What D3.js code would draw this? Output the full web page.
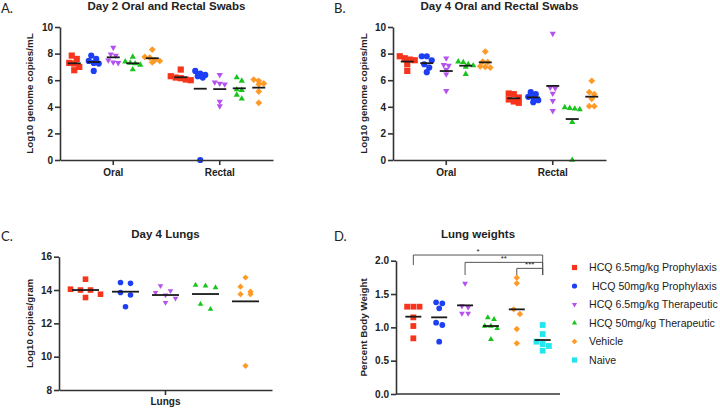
<!DOCTYPE html>
<html>
<head>
<meta charset="utf-8">
<script src="https://cdn.jsdelivr.net/npm/d3@7"></script>
<style>
  html, body { margin: 0; padding: 0; background: #fff; }
  svg { display: block; }
  text { font-family: "Liberation Sans", Arial, sans-serif; fill: #222; }
</style>
</head>
<body>
<svg id="chart" width="720" height="408"></svg>
<script>
// ---------------- DATA ----------------
const groups = ["HCQ 6.5mg/kg Prophylaxis", " HCQ 50mg/kg Prophylaxis", "HCQ 6.5mg/kg Therapeutic", "HCQ 50mg/kg Therapeutic", "Vehicle", "Naive"];
const swabCategories = ["Oral", "Rectal"];
const lungCategories = ["Lungs"];

// Panel A: Day 2 swabs (Log10 genome copies/mL)
const day2Oral = [
  [7.85, 7.6, 7.3, 7.25, 7.0, 6.75],
  [7.85, 7.6, 7.45, 7.3, 7.25, 6.7],
  [8.45, 7.95, 7.85, 7.5, 7.35, 7.3],
  [7.75, 7.4, 7.3, 7.25, 7.15, 6.8],
  [8.3, 7.75, 7.7, 7.5, 7.45, 7.35]
];
const day2Rectal = [
  [6.8, 6.3, 6.2, 6.15, 6.05, 6.0],
  [6.7, 6.5, 6.4, 6.3, 6.2, 0],
  [6.4, 5.85, 5.75, 5.7, 4.4, 4.05],
  [6.2, 5.95, 5.3, 5.25, 4.9, 4.6],
  [6.05, 5.95, 5.75, 5.7, 5.15, 4.3]
];
const day2OralMean = [7.27, 7.37, 7.72, 7.27, 7.65];
const day2RectalMean = [6.22, 5.36, 5.33, 5.39, 5.44];

// Panel B: Day 4 swabs
const day4Oral = [
  [7.8, 7.65, 7.55, 7.5, 7.2, 6.7],
  [7.8, 7.8, 7.5, 7.2, 6.95, 6.6],
  [7.65, 7.15, 7.1, 6.8, 6.45, 5.2],
  [7.4, 7.35, 7.2, 7.1, 7.0, 6.45],
  [8.15, 7.4, 7.35, 7.05, 7.0, 6.95]
];
const day4Rectal = [
  [5.0, 4.95, 4.7, 4.55, 4.4, 4.3],
  [5.1, 4.95, 4.75, 4.7, 4.5, 4.35],
  [9.5, 5.45, 5.4, 5.0, 4.45, 3.7],
  [3.95, 3.9, 3.85, 3.8, 2.85, 0],
  [5.95, 5.1, 4.95, 4.6, 4.05, 4.05]
];
const day4OralMean = [7.4, 7.28, 6.69, 7.09, 7.34];
const day4RectalMean = [4.64, 4.71, 5.57, 3.08, 4.76];

// Panel C: Day 4 lungs (Log10 copies/gram)
const day4Lungs = [
  [14.65, 14.05, 14.0, 14.0, 13.75, 13.55],
  [14.45, 14.4, 13.85, 13.7, 13.0],
  [14.25, 13.95, 13.85, 13.7, 13.5, 13.25],
  [14.3, 14.25, 14.15, 13.15, 12.85],
  [14.75, 14.2, 13.9, 13.75, 13.75, 9.45]
];
const day4LungsMean = [14.0, 13.9, 13.7, 13.76, 13.32];

// Panel D: Lung weights (Percent Body Weight)
const lungWeights = [
  [1.31, 1.31, 1.31, 1.15, 1.02, 0.835],
  [1.375, 1.36, 1.285, 1.07, 1.035, 0.785],
  [1.66, 1.32, 1.3, 1.21, 1.21],
  [1.145, 1.12, 1.02, 1.02, 0.985, 0.82],
  [1.745, 1.66, 1.27, 1.2, 0.975, 0.76],
  [1.035, 0.9, 0.785, 0.75, 0.72, 0.65]
];
const lungWeightsMean = [1.16, 1.15, 1.33, 1.02, 1.27, 0.81];

// Significance comparisons in panel D (group indices, label, bracket heights in data units)
const comparisons = [
  { from: 0, to: 5, label: "*", top: 2.085, leftEnd: 1.935, rightEnd: 1.785 },
  { from: 2, to: 5, label: "**", top: 1.975, leftEnd: 1.785, rightEnd: 1.785 },
  { from: 4, to: 5, label: "***", top: 1.885, leftEnd: 1.785, rightEnd: 1.785 }
];

const swabTicks = [0, 2, 4, 6, 8, 10];
const lungTicks = [8, 10, 12, 14, 16];
const weightTicks = [0, 0.5, 1.0, 1.5, 2.0];

// ---------------- STYLE ----------------
const colors = ["#f7351c", "#1c3ff5", "#b552ee", "#18c41c", "#ff9a26", "#22e6ee"];
const axisColor = "#333";

const svg = d3.select("#chart");

function shapePath(kind, w) {
  const r = w / 2;
  switch (kind) {
    case 0: case 5: return `M${-r},${-r}H${r}V${r}H${-r}Z`;
    case 1: return d3.symbol(d3.symbolCircle, Math.PI * r * r)();
    case 2: { const h = w * 0.87; return `M${-r},${-h/3}L${r},${-h/3}L0,${2*h/3}Z`; }
    case 3: { const h = w * 0.87; return `M${-r},${h/3}L${r},${h/3}L0,${-2*h/3}Z`; }
    case 4: { const q = r * 1.1; return `M0,${-q}L${q},0L0,${q}L${-q},0Z`; }
  }
}

// GraphPad-like spreading: points at similar heights form a row, spread symmetrically
function spread(values, yScale, step, thresh) {
  const order = d3.range(values.length).sort((a, b) => d3.descending(values[a], values[b]));
  const offsets = new Array(values.length).fill(0);
  let row = [];
  const flush = () => {
    row.forEach((idx, k) => { offsets[idx] = (k - (row.length - 1) / 2) * step; });
    row = [];
  };
  for (const i of order) {
    if (row.length && Math.abs(yScale(values[i]) - yScale(values[row[0]])) > thresh) flush();
    row.push(i);
  }
  flush();
  return offsets;
}

function drawYAxis(g, y, ticks, fmt) {
  const ax = g.append("g")
    .attr("transform", `translate(${y.xPos},0)`)
    .call(d3.axisLeft(y).tickValues(ticks).tickSize(5).tickSizeOuter(0).tickPadding(2).tickFormat(fmt));
  ax.select(".domain").attr("stroke", axisColor).attr("stroke-width", 1.6);
  ax.selectAll(".tick line").attr("stroke", axisColor).attr("stroke-width", 1.6);
  ax.selectAll(".tick text").attr("font-size", 10).attr("font-weight", "bold")
    .attr("font-family", "Liberation Sans, Arial, sans-serif").attr("fill", "#222");
  return ax;
}

function styleXAxis(ax) {
  ax.select(".domain").attr("stroke", axisColor).attr("stroke-width", 1.6);
  ax.selectAll(".tick line").attr("stroke", axisColor).attr("stroke-width", 1.6);
  ax.selectAll(".tick text").attr("font-size", 10).attr("font-weight", "bold")
    .attr("font-family", "Liberation Sans, Arial, sans-serif").attr("fill", "#222");
}

function panelText(g, cfg) {
  g.append("text").attr("x", cfg.letterX).attr("y", cfg.letterY)
    .attr("font-size", 13)
    .style("font-family", "Lato, 'Liberation Sans', sans-serif")
    .text(cfg.letter);
  g.append("text").attr("x", (cfg.x0 + cfg.x1) / 2).attr("y", cfg.titleY)
    .attr("text-anchor", "middle").attr("font-size", 11.5).attr("font-weight", "bold")
    .text(cfg.title);
  g.append("text")
    .attr("transform", `translate(${cfg.ylabX},${(cfg.y0 + cfg.y1) / 2}) rotate(-90)`)
    .attr("text-anchor", "middle").attr("font-size", 9.8).attr("font-weight", "bold")
    .text(cfg.ylab);
}

function drawGroups(g, seriesByCat, meansByCat, xCenter, innerX, y, opts) {
  seriesByCat.forEach((series, ci) => {
    series.forEach((vals, gi) => {
      const cx = xCenter(ci) + innerX(gi);
      const offs = spread(vals, y, opts.step, opts.thresh);
      g.append("g").selectAll("path").data(vals).join("path")
        .attr("d", shapePath(gi, opts.size))
        .attr("transform", (v, i) => `translate(${cx + offs[i]},${y(v)})`)
        .attr("fill", colors[gi]);
      const m = meansByCat[ci][gi];
      g.append("line")
        .attr("x1", cx - opts.half).attr("x2", cx + opts.half)
        .attr("y1", y(m)).attr("y2", y(m))
        .attr("stroke", "#1a1a1a").attr("stroke-width", 1.8);
    });
  });
}

// ---------- Panels A & B ----------
function swabPanel(cfg, oral, rectal, oralMean, rectalMean) {
  const g = svg.append("g");
  const y = d3.scaleLinear().domain([0, 10]).range([cfg.y0, cfg.y1]);
  y.xPos = cfg.x0;
  const x = d3.scaleBand().domain(swabCategories).range([cfg.x0, cfg.x1]);
  const inner = d3.scalePoint().domain(d3.range(5)).range([-39, 39]);
  panelText(g, cfg);
  drawGroups(g, [oral, rectal], [oralMean, rectalMean],
    ci => x(swabCategories[ci]) + x.bandwidth() / 2, gi => inner(gi), y,
    { step: 5, thresh: 4.5, size: 6.2, half: 6.5 });
  drawYAxis(g, y, swabTicks, d3.format("d"));
  const xa = g.append("g").attr("transform", `translate(0,${cfg.y0})`)
    .call(d3.axisBottom(x).tickSize(5).tickSizeOuter(0).tickPadding(4));
  styleXAxis(xa);
}

swabPanel({ x0: 60, x1: 273, y0: 160, y1: 27, letter: "A.", letterX: 1, letterY: 13,
  title: "Day 2 Oral and Rectal Swabs", titleY: 10, ylab: "Log10 genome copies/mL", ylabX: 33 },
  day2Oral, day2Rectal, day2OralMean, day2RectalMean);

swabPanel({ x0: 393, x1: 606, y0: 160, y1: 27, letter: "B.", letterX: 334, letterY: 13,
  title: "Day 4 Oral and Rectal Swabs", titleY: 10, ylab: "Log10 genome copies/mL", ylabX: 367 },
  day4Oral, day4Rectal, day4OralMean, day4RectalMean);

// ---------- Panel C ----------
(function () {
  const cfg = { x0: 59, x1: 272, y0: 390, y1: 256.7, letter: "C.", letterX: 1, letterY: 241,
    title: "Day 4 Lungs", titleY: 238, ylab: "Log10 copies/gram", ylabX: 33 };
  const g = svg.append("g");
  const y = d3.scaleLinear().domain([8, 16]).range([cfg.y0, cfg.y1]);
  y.xPos = cfg.x0;
  const x = d3.scaleBand().domain(lungCategories).range([cfg.x0, cfg.x1]);
  const inner = d3.scalePoint().domain(d3.range(5)).range([-80, 80]);
  panelText(g, cfg);
  drawGroups(g, [day4Lungs], [day4LungsMean],
    ci => x(lungCategories[ci]) + x.bandwidth() / 2, gi => inner(gi), y,
    { step: 10, thresh: 6, size: 5.6, half: 13.5 });
  drawYAxis(g, y, lungTicks, d3.format("d"));
  const xa = g.append("g").attr("transform", `translate(0,${cfg.y0})`)
    .call(d3.axisBottom(x).tickSize(5).tickSizeOuter(0).tickPadding(3));
  styleXAxis(xa);
})();

// ---------- Panel D ----------
(function () {
  const cfg = { x0: 396, x1: 560, y0: 394, y1: 260.7, letter: "D.", letterX: 334, letterY: 241,
    title: "Lung weights", titleY: 238, ylab: "Percent Body Weight", ylabX: 367 };
  const g = svg.append("g");
  const y = d3.scaleLinear().domain([0, 2]).range([cfg.y0, cfg.y1]);
  y.xPos = cfg.x0;
  const x = d3.scalePoint().domain(d3.range(6)).range([cfg.x0, cfg.x1]).padding(0.67);
  panelText(g, cfg);

  // brackets
  const br = g.append("g");
  comparisons.forEach(c => {
    const xa = x(c.from), xb = x(c.to);
    br.append("path")
      .attr("d", `M${xa},${y(c.leftEnd)}V${y(c.top)}H${xb}V${y(c.rightEnd)}`)
      .attr("fill", "none").attr("stroke", "#555").attr("stroke-width", 1);
    br.append("text").attr("x", (xa + xb) / 2).attr("y", y(c.top) - 1.5)
      .attr("text-anchor", "middle").attr("font-size", 8).attr("fill", "#444")
      .text(c.label);
  });

  drawGroups(g, [lungWeights], [lungWeightsMean],
    () => 0, gi => x(gi), y,
    { step: 6.2, thresh: 5, size: 5.8, half: 8 });
  drawYAxis(g, y, weightTicks, d3.format(".1f"));
  g.append("line").attr("x1", cfg.x0).attr("x2", cfg.x1)
    .attr("y1", cfg.y0).attr("y2", cfg.y0)
    .attr("stroke", axisColor).attr("stroke-width", 1.6);

  // legend
  const ly = d3.scalePoint().domain(d3.range(6)).range([267.5, 360]);
  const lg = g.append("g");
  groups.forEach((name, i) => {
    lg.append("path").attr("d", shapePath(i, 5.2))
      .attr("transform", `translate(574.5,${ly(i)})`).attr("fill", colors[i]);
    lg.append("text").attr("x", 589).attr("y", ly(i)).attr("dy", "0.36em")
      .attr("font-size", 10.6).attr("fill", "#333")
      .attr("xml:space", "preserve").style("white-space", "pre")
      .text(name);
  });
})();
</script>
</body>
</html>
